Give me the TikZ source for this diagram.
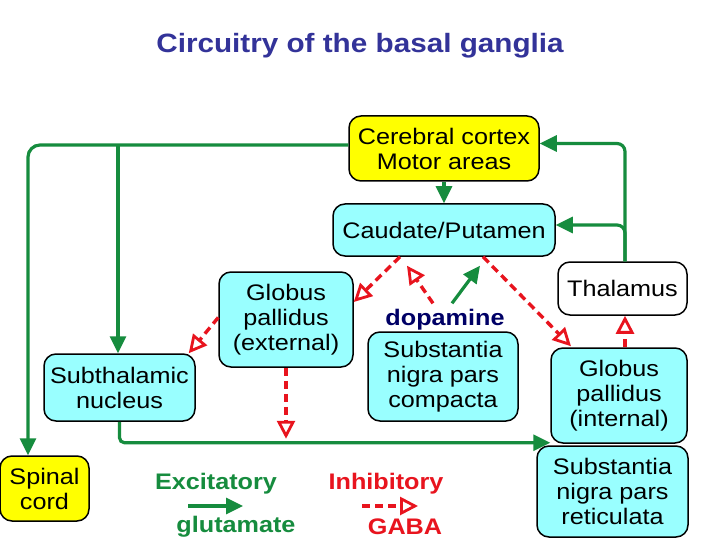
\documentclass[tikz,border=0pt]{standalone}
\usepackage{fontspec}
\setmainfont{Liberation Sans}[FakeStretch=1.12]
\usetikzlibrary{arrows.meta,calc}
\definecolor{gr}{RGB}{22,140,62}
\definecolor{rd}{RGB}{232,20,30}
\definecolor{cy}{RGB}{153,255,255}
\definecolor{yl}{RGB}{255,255,0}
\definecolor{ttl}{RGB}{51,51,153}
\definecolor{navy}{RGB}{0,0,102}
\begin{document}
\begin{tikzpicture}[x=1pt,y=-1pt,
  box/.style={draw=black,line width=1.5pt,rounded corners=12pt,align=center,inner sep=0pt,font=\fontsize{22.5}{25}\selectfont},
  cyanbox/.style={box,fill=cy},
  ylbox/.style={box,fill=yl},
  whbox/.style={box,fill=white},
  exc/.style={draw=gr,line width=3.2pt,-{Triangle[length=17pt,width=16pt]}},
  inh/.style={draw=rd,line width=3.4pt,dash pattern=on 8pt off 5pt,-{Triangle[open,length=18pt,width=18pt,line width=2.8pt]}},
  lbl/.style={font=\fontsize{22.5}{25}\selectfont\bfseries,inner sep=0pt}]
\fill[white] (0,0) rectangle (720,540);
\useasboundingbox (0,0) rectangle (720,540);

\node[font=\fontsize{26.5}{30}\selectfont\bfseries,text=ttl] (title) at (360,46) {Circuitry of the basal ganglia};

\node[ylbox,minimum width=190pt,minimum height=65pt] (cortex) at (444,148.5) {Cerebral cortex\\Motor areas};
\node[cyanbox,minimum width=222pt,minimum height=52pt] (caud) at (444,230) {Caudate/Putamen};
\node[whbox,minimum width=129pt,minimum height=53pt] (thal) at (622.5,288.5) {Thalamus};
\node[cyanbox,minimum width=134pt,minimum height=95pt] (gpe) at (286,319.5) {Globus\\pallidus\\(external)};
\node[cyanbox,minimum width=150pt,minimum height=89pt] (snc) at (443,376.5) {Substantia\\nigra pars\\compacta};
\node[lbl,text=navy] (dopa) at (445,320) {dopamine};
\node[cyanbox,minimum width=151pt,minimum height=67pt] (stn) at (119.5,387.5) {Subthalamic\\nucleus};
\node[cyanbox,minimum width=136pt,minimum height=95pt] (gpi) at (619,395.5) {Globus\\pallidus\\(internal)};
\node[cyanbox,minimum width=151pt,minimum height=91pt] (snr) at (612.5,491.5) {Substantia\\nigra pars\\reticulata};
\node[ylbox,minimum width=89pt,minimum height=65pt] (spinal) at (44.5,488.5) {Spinal\\cord};

% legend
\node[lbl,text=gr] (excit) at (216,484) {Excitatory};
\node[lbl,text=gr] (glut) at (236,527) {glutamate};
\node[lbl,text=rd] (inhib) at (386,484) {Inhibitory};
\node[lbl,text=rd] (gaba) at (405,527) {GABA};
\coordinate (e1) at (188,506);
\coordinate (e2) at (243,506);
\coordinate (i1) at (362,506);
\coordinate (i2) at (418,506);
\draw[exc] (e1) -- (e2);
\draw[inh] (i1) -- (i2);

% excitatory connections
\coordinate (cl) at ([yshift=3.5pt]cortex.west);
\coordinate (stntop) at ([xshift=-1.5pt]stn.north);
\draw[exc,rounded corners=12pt] (cl) -| ([xshift=-16.5pt]spinal.north);
\draw[exc] (stntop |- cl) -- (stntop);
\draw[exc] (cortex.south) -- (caud.north);
\coordinate (thtop) at ([xshift=2.5pt]thal.north);
\draw[exc,rounded corners=8pt] (thtop) |- ([yshift=5pt]cortex.east);
\draw[exc,rounded corners=8pt] (thtop) |- ([yshift=5pt]caud.east);
\draw[exc] ([xshift=7pt,yshift=6pt]dopa.north) -- ([xshift=36pt,yshift=-9pt]caud.south);
\coordinate (gl) at ([yshift=1pt]gpi.south west);
\draw[exc,rounded corners=5pt] (stn.south) |- (gl);

% inhibitory connections
\draw[inh] ([xshift=-44pt]caud.south) -- ([yshift=17.5pt]gpe.east);
\draw[inh] ([xshift=-12pt,yshift=6pt]dopa.north) -- ([xshift=-37pt,yshift=-9pt]caud.south);
\draw[inh] ([xshift=39pt]caud.south) -- ([xshift=-48pt,yshift=1pt]gpi.north);
\draw[inh] ([yshift=2pt]gpe.west) -- ([xshift=-7pt]stn.north east);
\draw[inh] (gpe.south) -- ([yshift=4pt]gpe.south |- gl);
\draw[inh] ([xshift=6pt]gpi.north) -- ([xshift=2.5pt]thal.south);
\end{tikzpicture}
\end{document}
